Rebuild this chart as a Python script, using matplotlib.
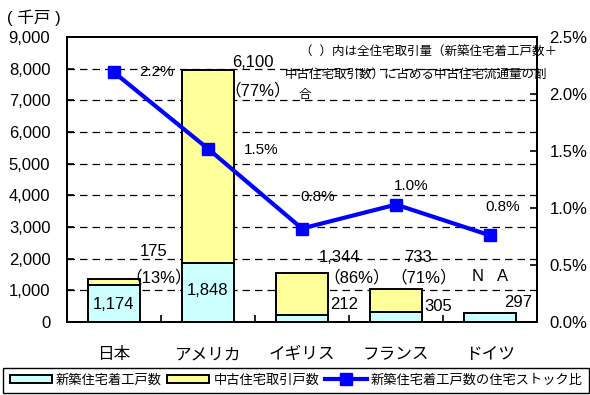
import matplotlib

matplotlib.use("Agg")
import matplotlib.pyplot as plt
from matplotlib.lines import Line2D
from matplotlib.patches import Patch
from matplotlib.ticker import FixedLocator, FuncFormatter

plt.rcParams["font.family"] = ["Liberation Sans", "Noto Sans CJK JP"]

countries = ["日本", "アメリカ", "イギリス", "フランス", "ドイツ"]
new_starts = [1174, 1848, 212, 305, 297]          # 新築住宅着工戸数 (千戸)
used_sales = [175, 6100, 1344, 733, None]         # 中古住宅取引戸数 (千戸)
used_share = ["（13%）", "（77%）", "（86%）", "（71%）", "N   A"]
stock_ratio = [2.19, 1.52, 0.82, 1.03, 0.76]      # 新築住宅着工戸数の住宅ストック比 (%)

left_ticks = list(range(0, 9001, 1000))
right_ticks = [0.0, 0.5, 1.0, 1.5, 2.0, 2.5]

NEW_COLOR = "#ccffff"
USED_COLOR = "#ffff99"
LINE_COLOR = "#0000ff"

fig = plt.figure(figsize=(5.9, 3.95), dpi=100)
ax = fig.add_axes([67 / 590, 1 - 322 / 395, 470 / 590, 285 / 395])

x = list(range(len(countries)))
width = 0.55
used_vals = [v if v is not None else 0 for v in used_sales]
ax.bar(x, new_starts, width, color=NEW_COLOR, edgecolor="black", linewidth=1.4, zorder=2)
ax.bar(x, used_vals, width, bottom=new_starts, color=USED_COLOR, edgecolor="black",
       linewidth=1.4, zorder=2)

ax.set_xlim(-0.5, len(countries) - 0.5)
ax.set_ylim(0, 9000)
ax.yaxis.set_major_locator(FixedLocator(left_ticks))
ax.yaxis.set_major_formatter(FuncFormatter(lambda v, _: f"{v:,.0f}"))
ax.set_xticks(x)
ax.set_xticklabels(countries, fontsize=12)
ax.set_xticks([i + 0.5 for i in x[:-1]], minor=True)
ax.tick_params(axis="x", which="major", length=0, pad=18)
ax.tick_params(axis="x", which="minor", direction="in", length=5, width=1.2)
ax.tick_params(axis="y", direction="in", length=5, width=1.2, labelsize=12, pad=12)

for t in left_ticks[1:-1]:
    ax.axhline(t, color="black", linewidth=0.9, linestyle=(0, (6, 4)), zorder=1)

for side in ax.spines.values():
    side.set_linewidth(1.4)

# value labels for the bars
label_kw = dict(fontsize=12, ha="center", va="center")
ax.text(0, 540, f"{new_starts[0]:,}", **label_kw)
ax.text(1, 980, f"{new_starts[1]:,}", **label_kw)
ax.text(0.42, 2230, f"{used_sales[0]:,}", **label_kw)
ax.text(0.48, 1400, used_share[0], **label_kw)
ax.text(1.48, 8210, f"{used_sales[1]:,}", **label_kw)
ax.text(1.53, 7320, used_share[1], **label_kw)
ax.text(2.4, 2030, f"{used_sales[2]:,}", **label_kw)
ax.text(2.58, 1400, used_share[2], **label_kw)
ax.text(2.45, 560, f"{new_starts[2]:,}", **label_kw)
ax.text(3.23, 2030, f"{used_sales[3]:,}", **label_kw)
ax.text(3.29, 1400, used_share[3], **label_kw)
ax.text(3.45, 480, f"{new_starts[3]:,}", **label_kw)
ax.text(4.0, 1450, used_share[4], **label_kw)
ax.text(4.3, 620, f"{new_starts[4]:,}", **label_kw)

fig.text(7 / 590, 1 - 18 / 395, "( 千戸 )", fontsize=12, ha="left", va="center")

note_kw = dict(fontsize=9, ha="left", va="center")
ax.text(1.98, 8500, "（  ）内は全住宅取引量（新築住宅着工戸数＋", **note_kw)
ax.text(1.82, 7810, "中古住宅取引数）に占める中古住宅流通量の割", **note_kw)
ax.text(1.96, 7180, "合", **note_kw)

# stock ratio line on the secondary axis
ax2 = ax.twinx()
ax2.plot(x, stock_ratio, color=LINE_COLOR, linewidth=3, marker="s", markersize=9,
         markeredgecolor=LINE_COLOR, zorder=5)
ax2.set_ylim(0, 2.5)
ax2.yaxis.set_major_locator(FixedLocator(right_ticks))
ax2.yaxis.set_major_formatter(FuncFormatter(lambda v, _: f"{v:.1f}%"))
ax2.tick_params(axis="y", direction="in", length=5, width=1.2, labelsize=12, pad=9)
for side in ax2.spines.values():
    side.set_linewidth(1.4)

ratio_pos = [(0.45, 0.0), (0.57, -0.01), (0.17, 0.28), (0.16, 0.16), (0.14, 0.25)]
for xi, r, (dx, dy) in zip(x, stock_ratio, ratio_pos):
    ax2.text(xi + dx, r + dy, f"{r:.1f}%", fontsize=11, ha="center", va="center")

handles = [
    Patch(facecolor=NEW_COLOR, edgecolor="black", linewidth=1.4),
    Patch(facecolor=USED_COLOR, edgecolor="black", linewidth=1.4),
    Line2D([], [], color=LINE_COLOR, linewidth=3, marker="s", markersize=8),
]
names = ["新築住宅着工戸数", "中古住宅取引戸数", "新築住宅着工戸数の住宅ストック比"]
leg = fig.legend(handles, names, ncol=3, loc="upper left",
                 bbox_to_anchor=(3 / 590, 1 - 368 / 395), borderaxespad=0,
                 fontsize=9.5, handlelength=3.2, handleheight=0.6, handletextpad=0.3,
                 columnspacing=0.4, borderpad=0.5, fancybox=False, framealpha=1)
leg.get_frame().set_edgecolor("black")
leg.get_frame().set_linewidth(1.0)

fig.savefig("out.png", dpi=100)
